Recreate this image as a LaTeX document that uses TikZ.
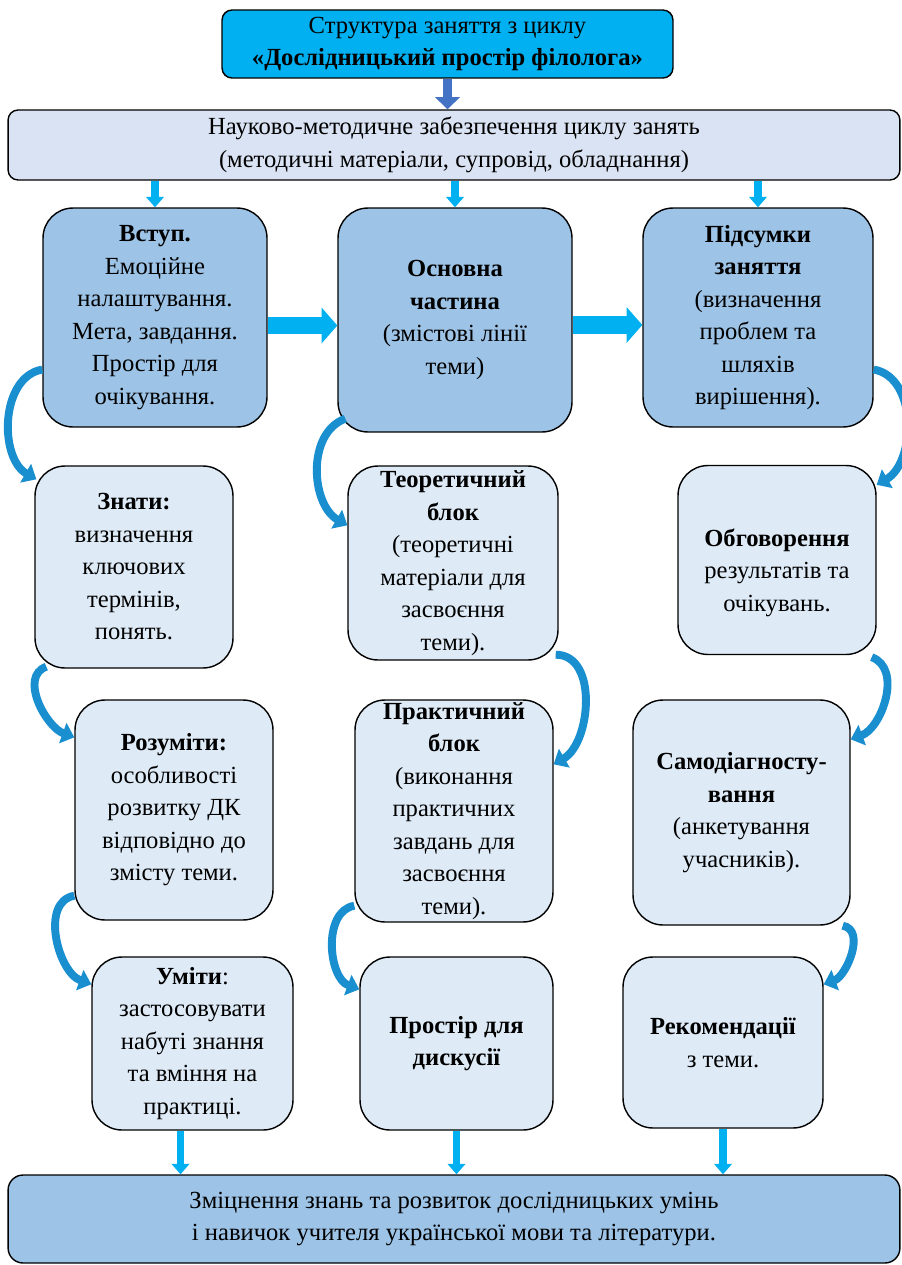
\documentclass[tikz,border=0pt]{standalone}
\usepackage{fontspec}
\setmainfont{Liberation Serif}
\usetikzlibrary{arrows.meta,calc}
\definecolor{titlecyan}{HTML}{00B0F0}
\definecolor{suppfill}{HTML}{DAE3F3}
\definecolor{midblue}{HTML}{9DC3E6}
\definecolor{paleblue}{HTML}{DEEBF7}
\definecolor{darkarr}{HTML}{4472C4}
\definecolor{curvecol}{HTML}{1A8FD0}

\begin{document}
\begin{tikzpicture}[x=0.02cm, y=-0.02cm,
    every node/.style={font=\fontsize{14}{18.5}\selectfont, align=center, inner sep=0pt},
    mainbox/.style={draw, line width=0.8pt, rounded corners=0.6cm, fill=midblue},
    subbox/.style={draw, line width=0.8pt, rounded corners=0.6cm, fill=paleblue},
    downarr/.style={draw=titlecyan, line width=4.5pt, -{Triangle[width=10pt,length=6pt]}},
    sidearr/.style={draw=titlecyan, line width=10pt, -{Triangle[width=20pt,length=9pt]}},
    curvarr/.style={draw=curvecol, line width=4.5pt, -{Triangle[width=12pt,length=7pt]}}]
    \useasboundingbox (0,0) rectangle (902,1265);

    % Title
    \node[draw, line width=0.8pt, rounded corners=0.2cm, fill=titlecyan, minimum width=9.02cm, minimum height=1.36cm] (title) at (447.5,44) {Структура заняття з циклу\\\textbf{«Дослідницький простір філолога»}};

    % Support
    \node[draw, line width=0.8pt, rounded corners=0.2cm, fill=suppfill, minimum width=17.84cm, minimum height=1.4cm] (supp) at (454,145) {Науково-методичне забезпечення циклу занять\\(методичні матеріали, супровід, обладнання)};

    % Row 1
    \node[mainbox, minimum width=4.48cm, minimum height=4.38cm] (vstup) at (155,317.5) {\textbf{Вступ.}\\Емоційне\\налаштування.\\Мета, завдання.\\Простір для\\очікування.};
    \node[mainbox, minimum width=4.68cm, minimum height=4.48cm] (osnovna) at (455,320) {\textbf{Основна}\\\textbf{частина}\\(змістові лінії\\теми)};
    \node[mainbox, minimum width=4.6cm, minimum height=4.38cm] (pidsumky) at (758,317.5) {\textbf{Підсумки}\\\textbf{заняття}\\(визначення\\проблем та\\шляхів\\вирішення).};

    % Row 2
    \node[subbox, minimum width=3.96cm, minimum height=4.04cm] (znaty) at (134,567) {\textbf{Знати:}\\визначення\\ключових\\термінів,\\понять.};
    \node[subbox, minimum width=4.2cm, minimum height=3.88cm] (teor) at (453,563) {\textbf{Теоретичний}\\\textbf{блок}\\(теоретичні\\матеріали для\\засвоєння\\теми).};
    \node[subbox, minimum width=3.96cm, minimum height=3.78cm] (obgov) at (777,560) {\\[0.2cm]\textbf{Обговорення}\\результатів та\\очікувань.};

    % Row 3
    \node[subbox, minimum width=3.96cm, minimum height=4.4cm] (rozum) at (174,810) {\textbf{Розуміти:}\\особливості\\розвитку ДК\\відповідно до\\змісту теми.};
    \node[subbox, minimum width=3.96cm, minimum height=4.44cm] (prakt) at (454,811) {\textbf{Практичний}\\\textbf{блок}\\(виконання\\практичних\\завдань для\\засвоєння\\теми).};
    \node[subbox, minimum width=4.34cm, minimum height=4.5cm] (samod) at (741.5,812.5) {\textbf{Самодіагносту-}\\\textbf{вання}\\(анкетування\\учасників).};

    % Row 4
    \node[subbox, minimum width=4.02cm, minimum height=3.46cm] (umity) at (192.5,1043.5) {\textbf{Уміти}:\\застосовувати\\набуті знання\\та вміння на\\практиці.};
    \node[subbox, minimum width=3.86cm, minimum height=3.46cm] (prostir) at (456.5,1043.5) {\textbf{Простір для}\\\textbf{дискусії}};
    \node[subbox, minimum width=4cm, minimum height=3.42cm] (rekom) at (723,1042.5) {\textbf{Рекомендації}\\з теми.};

    % Result
    \node[draw, line width=0.8pt, rounded corners=0.3cm, fill=midblue, minimum width=17.84cm, minimum height=1.76cm] (result) at (454,1219) {Зміцнення знань та розвиток дослідницьких умінь\\і навичок учителя української мови та літератури.};

    % Straight arrows
    \draw[draw=darkarr, line width=5.5pt, -{Triangle[width=14pt,length=7pt]}] (title.south) -- (title.south |- supp.north);
    \foreach \n in {vstup, osnovna, pidsumky}
        \draw[downarr] (\n.north |- supp.south) -- (\n.north);
    \draw[sidearr] ($(vstup.east)+(0,8)$) -- ($(vstup.east -| osnovna.west)+(0,8)$);
    \draw[sidearr] ($(osnovna.east)+(0,5)$) -- ($(osnovna.east -| pidsumky.west)+(0,5)$);
    \draw[downarr] ($(umity.south)+(-12,0)$) -- ($(umity.south |- result.north)+(-12,0)$);
    \draw[downarr] (prostir.south) -- (prostir.south |- result.north);
    \draw[downarr] (rekom.south) -- (rekom.south |- result.north);

    % Curved arrows, left column
    \draw[curvarr] ($(vstup.west)+(0,52)$) to[out=190, in=150] ($(znaty.north west)+(2,14)$);
    \draw[curvarr] ($(znaty.south west)+(12,-2)$) to[out=200, in=160] ($(rozum.north west)+(0,38)$);
    \draw[curvarr] ($(rozum.south west)+(0,-25)$) to[out=190, in=160] ($(umity.north west)+(0,28)$);

    % Curved arrows, middle column
    \draw[curvarr] ($(osnovna.south west)+(8,-14)$) to[out=200, in=150] ($(teor.north west)+(0,60)$);
    \draw[curvarr] ($(teor.south east)+(-3,-6)$) to[out=0, in=30] ($(prakt.north east)+(0,65)$);
    \draw[curvarr] ($(prakt.south west)+(0,-17)$) to[out=190, in=160] ($(prostir.north west)+(0,33)$);

    % Curved arrows, right column
    \draw[curvarr] ($(pidsumky.east)+(0,52)$) to[out=-10, in=30] ($(obgov.north east)+(0,20)$);
    \draw[curvarr] ($(obgov.south east)+(-5,2)$) to[out=-20, in=20] ($(samod.north east)+(0,40)$);
    \draw[curvarr] ($(samod.south east)+(-8,0)$) to[out=-10, in=20] ($(rekom.north east)+(0,28)$);
\end{tikzpicture}
\end{document}
